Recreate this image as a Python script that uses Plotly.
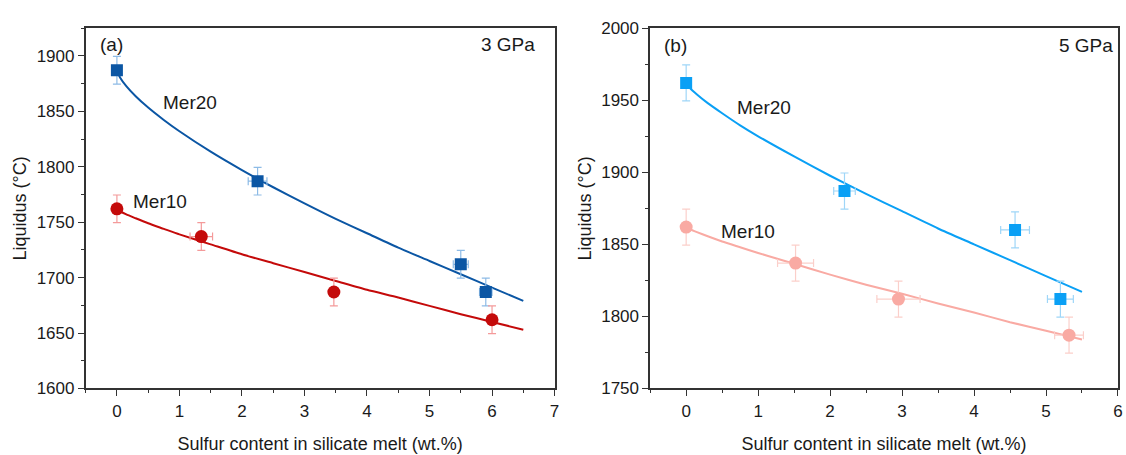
import plotly.graph_objects as go

# ---------------- data: panel (a) 3 GPa ----------------
a_mer20_x = [0.0, 2.25, 5.5, 5.9]
a_mer20_y = [1887, 1787, 1712, 1687]
a_mer20_xerr = [0.0, 0.15, 0.12, 0.1]
a_mer20_yerr = [12.5, 12.5, 12.5, 12.5]

a_mer10_x = [0.0, 1.35, 3.47, 6.0]
a_mer10_y = [1762, 1737, 1687, 1662]
a_mer10_xerr = [0.0, 0.18, 0.05, 0.05]
a_mer10_yerr = [12.5, 12.5, 12.5, 12.5]

# fitted curves, values
fit_x_a = [0, 0.05, 0.15, 0.3, 0.5, 0.75, 1.0, 1.5, 2.0, 2.5, 3.0, 3.5, 4.0, 4.5, 5.0, 5.5, 6.0, 6.5]
a_fit20_y = [1887, 1880.5, 1872.7, 1863.6, 1853.4, 1842.2, 1832, 1813.6, 1797, 1781.5, 1767, 1753, 1740, 1727, 1715, 1703, 1691, 1679]
a_fit10_y = [1762, 1760, 1757, 1753.5, 1749, 1744, 1739, 1730, 1721, 1713, 1705, 1697, 1689, 1682, 1674.5, 1667, 1660, 1653]

# ---------------- data: panel (b) 5 GPa ----------------
b_mer20_x = [0.0, 2.2, 4.57, 5.2]
b_mer20_y = [1962, 1887, 1860, 1812]
b_mer20_xerr = [0.0, 0.15, 0.2, 0.18]
b_mer20_yerr = [12.5, 12.5, 12.5, 12.5]

b_mer10_x = [0.0, 1.52, 2.95, 5.32]
b_mer10_y = [1862, 1837, 1812, 1787]
b_mer10_xerr = [0.0, 0.25, 0.3, 0.2]
b_mer10_yerr = [12.5, 12.5, 12.5, 12.5]

fit_x_b = [0, 0.05, 0.15, 0.3, 0.5, 0.75, 1.0, 1.5, 2.0, 2.5, 3.0, 3.5, 4.0, 4.5, 5.0, 5.5]
b_fit20_y = [1962, 1958.6, 1954, 1948, 1941, 1932.6, 1925, 1911, 1897.6, 1885, 1873, 1861, 1850, 1839, 1828, 1817]
b_fit10_y = [1862, 1860.6, 1858.5, 1855.6, 1852, 1848, 1844, 1836.5, 1829, 1822, 1815.7, 1809, 1802.7, 1796, 1790, 1784]

x_tick_a = [0, 1, 2, 3, 4, 5, 6, 7]
y_tick_a = [1600, 1650, 1700, 1750, 1800, 1850, 1900]
x_tick_b = [0, 1, 2, 3, 4, 5, 6]
y_tick_b = [1750, 1800, 1850, 1900, 1950, 2000]

# colours
C_A20 = "#0b56a4"; C_A20_ERR = "#8dbbe6"
C_A10 = "#c40a0a"; C_A10_ERR = "#f49a9a"
C_B20 = "#0aa0f5"; C_B20_ERR = "#9fd6f8"
C_B10 = "#f9aaa3"; C_B10_ERR = "#fbcfca"

FONT = "Arial, Liberation Sans, sans-serif"
TXT = "#1a1a1a"

fig = go.Figure()


def add_points(x, y, xe, ye, color, ecolor, symbol, size, xa, ya):
    fig.add_trace(go.Scatter(
        x=x, y=y, mode="markers", xaxis=xa, yaxis=ya,
        marker=dict(symbol=symbol, size=size, color=color, line=dict(width=0)),
        error_y=dict(type="data", array=ye, color=ecolor, thickness=1.2, width=4),
        error_x=dict(type="data", array=xe, color=ecolor, thickness=1.2, width=4),
        showlegend=False, hoverinfo="x+y"))


def add_fit(x, y, color, xa, ya):
    fig.add_trace(go.Scatter(
        x=x, y=y, mode="lines", xaxis=xa, yaxis=ya,
        line=dict(color=color, width=2, shape="spline", smoothing=0.6),
        showlegend=False, hoverinfo="skip"))


add_fit(fit_x_a, a_fit20_y, C_A20, "x", "y")
add_fit(fit_x_a, a_fit10_y, C_A10, "x", "y")
add_points(a_mer20_x, a_mer20_y, a_mer20_xerr, a_mer20_yerr, C_A20, C_A20_ERR, "square", 12, "x", "y")
add_points(a_mer10_x, a_mer10_y, a_mer10_xerr, a_mer10_yerr, C_A10, C_A10_ERR, "circle", 13, "x", "y")

add_fit(fit_x_b, b_fit20_y, C_B20, "x2", "y2")
add_fit(fit_x_b, b_fit10_y, C_B10, "x2", "y2")
add_points(b_mer20_x, b_mer20_y, b_mer20_xerr, b_mer20_yerr, C_B20, C_B20_ERR, "square", 12, "x2", "y2")
add_points(b_mer10_x, b_mer10_y, b_mer10_xerr, b_mer10_yerr, C_B10, C_B10_ERR, "circle", 13, "x2", "y2")

axis_common = dict(
    showgrid=False, zeroline=False, showline=True, linecolor="#333333", linewidth=1.5,
    mirror=True, ticks="outside", ticklen=6, tickwidth=1.2, tickcolor="#333333",
    tickfont=dict(family=FONT, size=17, color=TXT),
)
minor_x = dict(ticks="outside", ticklen=3, dtick=0.5, tickcolor="#333333", tickwidth=1.2, showgrid=False)
minor_y = dict(ticks="outside", ticklen=3, dtick=25, tickcolor="#333333", tickwidth=1.2, showgrid=False)

xtitle = dict(text="Sulfur content in silicate melt (wt.%)", font=dict(family=FONT, size=18, color=TXT), standoff=18)
ytitle = dict(text="Liquidus (°C)", font=dict(family=FONT, size=18, color=TXT), standoff=5)

fig.update_layout(
    width=1126, height=455, margin=dict(l=0, r=0, t=0, b=0),
    paper_bgcolor="white", plot_bgcolor="white",
    xaxis=dict(domain=[0.0764, 0.4947], range=[-0.5, 7], tickvals=x_tick_a, anchor="y",
               minor=minor_x, title=xtitle, **axis_common),
    yaxis=dict(domain=[0.1297, 0.956], range=[1600, 1925], tickvals=y_tick_a, anchor="x",
               minor=minor_y, title=ytitle, **axis_common),
    xaxis2=dict(domain=[0.58, 0.9973], range=[-0.5, 6], tickvals=x_tick_b, anchor="y2",
                minor=minor_x, title=xtitle, **axis_common),
    yaxis2=dict(domain=[0.1297, 0.956], range=[1750, 2000], tickvals=y_tick_b, anchor="x2",
                minor=minor_y, title=ytitle, **axis_common),
)

tf = dict(family=FONT, size=19, color=TXT)
annots = [
    dict(x=-0.3, y=1910, xref="x", yref="y", text="(a)", xanchor="left", yanchor="middle"),
    dict(x=6.72, y=1910, xref="x", yref="y", text="3 GPa", xanchor="right", yanchor="middle"),
    dict(x=0.7, y=1858, xref="x", yref="y", text="Mer20", xanchor="left", yanchor="middle"),
    dict(x=0.22, y=1769, xref="x", yref="y", text="Mer10", xanchor="left", yanchor="middle"),
    dict(x=-0.33, y=1988, xref="x2", yref="y2", text="(b)", xanchor="left", yanchor="middle"),
    dict(x=5.96, y=1988, xref="x2", yref="y2", text="5 GPa", xanchor="right", yanchor="middle"),
    dict(x=0.68, y=1945, xref="x2", yref="y2", text="Mer20", xanchor="left", yanchor="middle"),
    dict(x=0.46, y=1859, xref="x2", yref="y2", text="Mer10", xanchor="left", yanchor="middle"),
]
for a in annots:
    a.update(showarrow=False, font=tf)
fig.update_layout(annotations=annots)

fig.write_html("out.html")
